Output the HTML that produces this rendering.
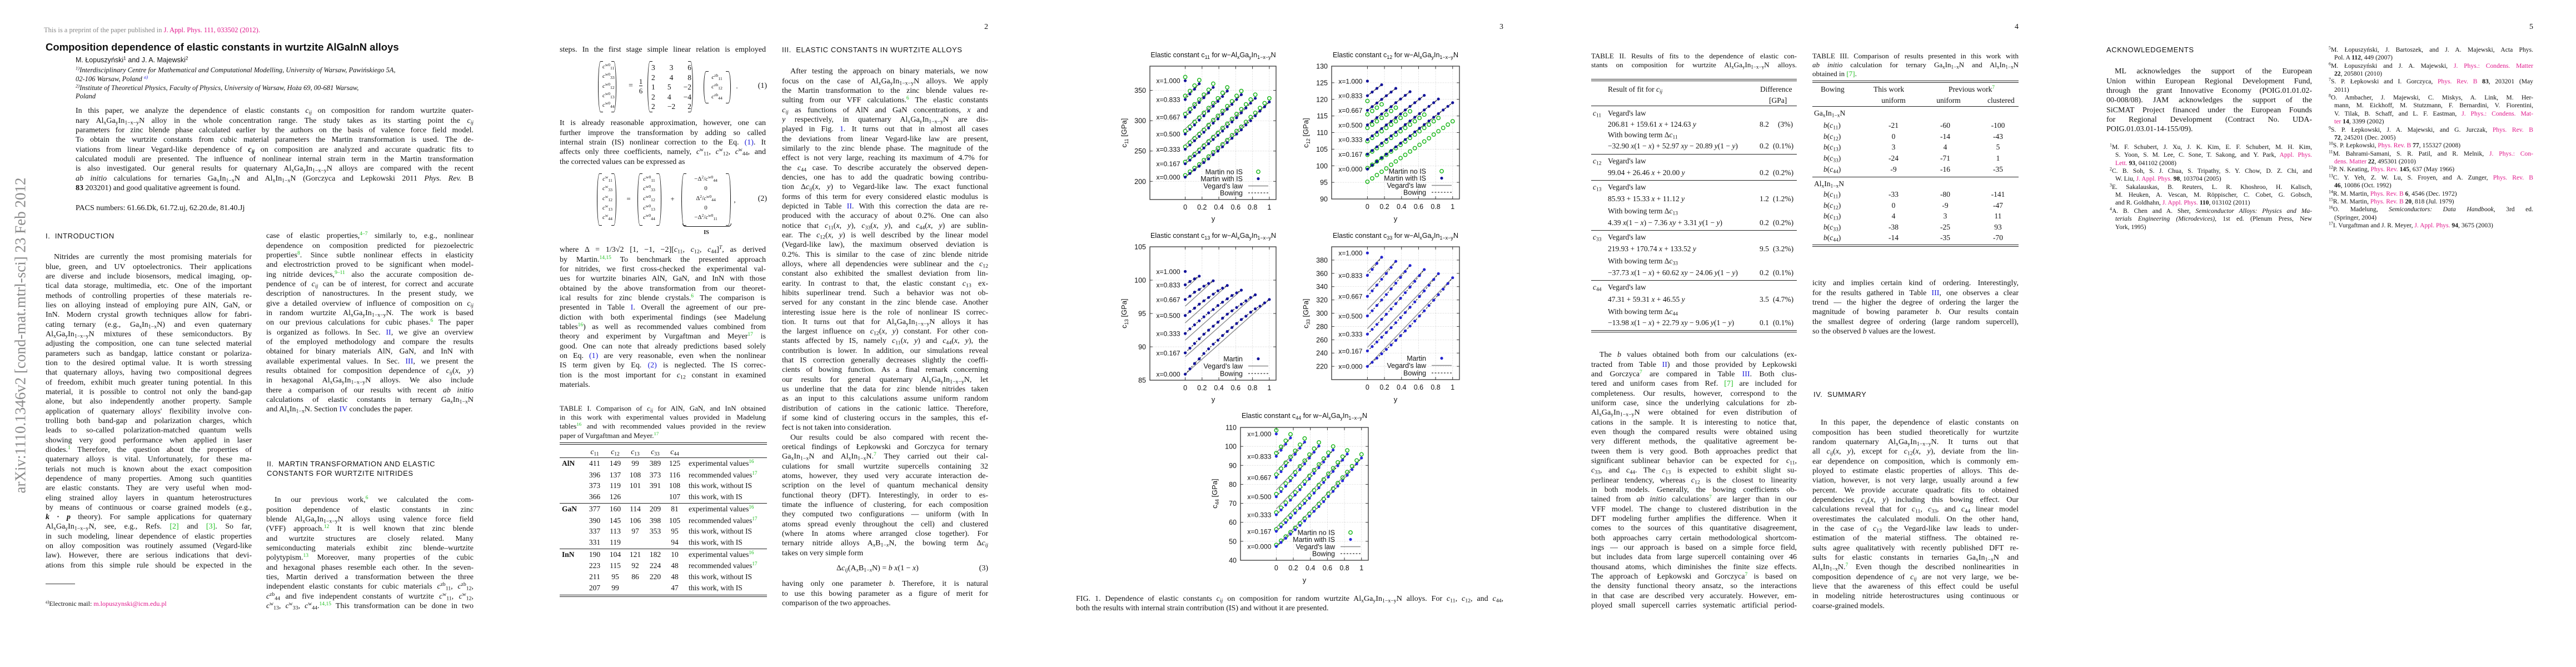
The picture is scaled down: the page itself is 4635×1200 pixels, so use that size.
<!DOCTYPE html>
<html><head><meta charset="utf-8">
<style>
html,body{margin:0;padding:0;background:#fff;}
body{width:4635px;height:1200px;position:relative;overflow:hidden;font-family:"Liberation Serif",serif;color:#111;}
.a{position:absolute;}
.col{position:absolute;font-size:14px;line-height:17.33px;}
.col>div{height:17.33px;overflow:hidden;text-align:justify;text-align-last:justify;white-space:nowrap;}
.col>div.e{text-align-last:left;}
.col>div.i{text-indent:15px;}
sub{font-size:70%;vertical-align:-0.25em;line-height:0;}
sup{font-size:68%;vertical-align:0.55em;line-height:0;}
.g{color:#22c022;}
.bl{color:#1a1ad8;}
.m{color:#e0188c;}
.sans{font-family:"Liberation Sans",sans-serif;}
.hd{position:absolute;font-family:"Liberation Sans",sans-serif;font-size:13px;letter-spacing:0.6px;line-height:17px;}
.pn{position:absolute;font-size:14px;text-align:right;width:40px;}
.cap{position:absolute;font-size:13px;line-height:16.2px;}
.cap>div{height:16.2px;overflow:hidden;text-align:justify;text-align-last:justify;white-space:nowrap;}
.cap>div.e{text-align-last:left;}
.ref{position:absolute;font-size:11.6px;line-height:14.38px;}
.ref>div{height:14.38px;overflow:hidden;text-align:justify;text-align-last:justify;white-space:nowrap;padding-left:10px;}
.ref>div.f{padding-left:0;}
.ref>div.e{text-align-last:left;}
.rule{position:absolute;height:0;border-top:1px solid #222;}
.tb{position:absolute;font-size:13.5px;}
.tb span{position:absolute;white-space:nowrap;line-height:16px;}
.c{text-align:center;width:50px;}
.par{position:absolute;width:8px;border:1.3px solid #111;}
.pl{border-right:none;border-radius:50% 0 0 50%/50% 0 0 50%;}
.pr{border-left:none;border-radius:0 50% 50% 0/0 50% 50% 0;}
.mx{position:absolute;font-size:13px;line-height:17.3px;text-align:center;}
</style></head><body>

<!-- ================= PAGE 1 ================= -->
<div class="a" style="left:-288px;top:588px;width:650px;text-align:center;font-size:27px;color:#8a8a8a;transform:rotate(-90deg);white-space:nowrap;">arXiv:1110.1346v2  [cond-mat.mtrl-sci]  23 Feb 2012</div>

<div class="a" style="left:79px;top:47px;font-size:12.5px;color:#888;white-space:nowrap;">This is a preprint of the paper published in <span class="m">J. Appl. Phys. 111, 033502 (2012).</span></div>

<div class="a sans" style="left:82px;top:74px;font-size:18.5px;font-weight:bold;white-space:nowrap;">Composition dependence of elastic constants in wurtzite AlGaInN alloys</div>
<div class="a sans" style="left:136px;top:101px;font-size:12.5px;white-space:nowrap;">M. Łopuszyński<sup>1</sup> and J. A. Majewski<sup>2</sup></div>
<div class="a" style="left:136px;top:119px;font-size:12.5px;line-height:15.8px;font-style:italic;white-space:nowrap;">
<div><sup>1)</sup>Interdisciplinary Centre for Mathematical and Computational Modelling, University of Warsaw, Pawińskiego 5A,</div>
<div>02-106 Warsaw, Poland <sup class="bl">a)</sup></div>
<div><sup>2)</sup>Institute of Theoretical Physics, Faculty of Physics, University of Warsaw, Hoża 69, 00-681 Warsaw,</div>
<div>Poland</div></div>

<div class="col" style="left:136px;top:191.3px;width:716px;">
<div>In this paper, we analyze the dependence of elastic constants <i>c<sub>ij</sub></i> on composition for random wurtzite quater-</div>
<div>nary Al<sub>x</sub>Ga<sub>y</sub>In<sub>1−x−y</sub>N alloy in the whole concentration range. The study takes as its starting point the <i>c<sub>ij</sub></i></div>
<div>parameters for zinc blende phase calculated earlier by the authors on the basis of valence force field model.</div>
<div>To obtain the wurtzite constants from cubic material parameters the Martin transformation is used. The de-</div>
<div>viations from linear Vegard-like dependence of <b><i>c<sub>ij</sub></i></b> on composition are analyzed and accurate quadratic fits to</div>
<div>calculated moduli are presented. The influence of nonlinear internal strain term in the Martin transformation</div>
<div>is also investigated. Our general results for quaternary Al<sub>x</sub>Ga<sub>y</sub>In<sub>1−x−y</sub>N alloys are compared with the recent</div>
<div><i>ab initio</i> calculations for ternaries Ga<sub>x</sub>In<sub>1−x</sub>N and Al<sub>x</sub>In<sub>1−x</sub>N (Gorczyca and Lepkowski 2011 <i>Phys. Rev.</i> B</div>
<div class="e"><b>83</b> 203201) and good qualitative agreement is found.</div>
</div>
<div class="a" style="left:136px;top:367px;font-size:14px;white-space:nowrap;">PACS numbers: 61.66.Dk, 61.72.uj, 62.20.de, 81.40.Jj</div>

<div class="hd" style="left:82px;top:416px;">I.&nbsp;&nbsp;INTRODUCTION</div>

<div class="col" style="left:82px;top:454.3px;width:371px;">
<div class="i">Nitrides are currently the most promising materials for</div>
<div>blue, green, and UV optoelectronics. Their applications</div>
<div>are diverse and include biosensors, medical imaging, op-</div>
<div>tical data storage, multimedia, etc. One of the important</div>
<div>methods of controlling properties of these materials re-</div>
<div>lies on alloying instead of employing pure AlN, GaN, or</div>
<div>InN. Modern crystal growth techniques allow for fabri-</div>
<div>cating ternary (e.g., Ga<sub>x</sub>In<sub>1−x</sub>N) and even quaternary</div>
<div>Al<sub>x</sub>Ga<sub>y</sub>In<sub>1−x−y</sub>N mixtures of these semiconductors. By</div>
<div>adjusting the composition, one can tune selected material</div>
<div>parameters such as bandgap, lattice constant or polariza-</div>
<div>tion to the desired optimal value. It is worth stressing</div>
<div>that quaternary alloys, having two compositional degrees</div>
<div>of freedom, exhibit much greater tuning potential. In this</div>
<div>material, it is possible to control not only the band-gap</div>
<div>alone, but also independently another property. Sample</div>
<div>application of quaternary alloys' flexibility involve con-</div>
<div>trolling both band-gap and polarization charges, which</div>
<div>leads to so-called polarization-matched quantum wells</div>
<div>showing very good performance when applied in laser</div>
<div>diodes.<sup class="g">1</sup> Therefore, the question about the properties of</div>
<div>quaternary alloys is vital. Unfortunately, for these ma-</div>
<div>terials not much is known about the exact composition</div>
<div>dependence of many properties. Among such quantities</div>
<div>are elastic constants. They are very useful when mod-</div>
<div>eling strained alloy layers in quantum heterostructures</div>
<div>by means of continuous or coarse grained models (e.g.,</div>
<div><b><i>k</i> · <i>p</i></b> theory). For sample applications for quaternary</div>
<div>Al<sub>x</sub>Ga<sub>y</sub>In<sub>1−x−y</sub>N, see, e.g., Refs. <span class="g">[2]</span> and <span class="g">[3]</span>. So far,</div>
<div>in such modeling, linear dependence of elastic properties</div>
<div>on alloy composition was routinely assumed (Vegard-like</div>
<div>law). However, there are serious indications that devi-</div>
<div>ations from this simple rule should be expected in the</div>
</div>

<div class="col" style="left:479px;top:416.3px;width:373px;">
<div>case of elastic properties,<sup class="g">4–7</sup> similarly to, e.g., nonlinear</div>
<div>dependence on composition predicted for piezoelectric</div>
<div>properties<sup class="g">8</sup>. Since subtle nonlinear effects in elasticity</div>
<div>and electrostriction proved to be significant when model-</div>
<div>ing nitride devices,<sup class="g">9–11</sup> also the accurate composition de-</div>
<div>pendence of <i>c<sub>ij</sub></i> can be of interest, for correct and accurate</div>
<div>description of nanostructures. In the present study, we</div>
<div>give a detailed overview of influence of composition on <i>c<sub>ij</sub></i></div>
<div>in random wurtzite Al<sub>x</sub>Ga<sub>y</sub>In<sub>1−x−y</sub>N. The work is based</div>
<div>on our previous calculations for cubic phases.<sup class="g">6</sup> The paper</div>
<div>is organized as follows. In Sec. <span class="bl">II</span>, we give an overview</div>
<div>of the employed methodology and compare the results</div>
<div>obtained for binary materials AlN, GaN, and InN with</div>
<div>available experimental values. In Sec. <span class="bl">III</span>, we present the</div>
<div>results obtained for composition dependence of <i>c<sub>ij</sub></i>(<i>x, y</i>)</div>
<div>in hexagonal Al<sub>x</sub>Ga<sub>y</sub>In<sub>1−x−y</sub>N alloys. We also include</div>
<div>there a comparison of our results with recent <i>ab initio</i></div>
<div>calculations of elastic constants in ternary Ga<sub>x</sub>In<sub>1−x</sub>N</div>
<div class="e">and Al<sub>x</sub>In<sub>1−x</sub>N. Section <span class="bl">IV</span> concludes the paper.</div>
</div>

<div class="hd" style="left:480px;top:826px;">II.&nbsp;&nbsp;MARTIN TRANSFORMATION AND ELASTIC<br>CONSTANTS FOR WURTZITE NITRIDES</div>

<div class="col" style="left:479px;top:891.3px;width:373px;">
<div class="i">In our previous work,<sup class="g">6</sup> we calculated the com-</div>
<div>position dependence of elastic constants in zinc</div>
<div>blende Al<sub>x</sub>Ga<sub>y</sub>In<sub>1−x−y</sub>N alloys using valence force field</div>
<div>(VFF) approach.<sup class="g">12</sup> It is well known that zinc blende</div>
<div>and wurtzite structures are closely related. Many</div>
<div>semiconducting materials exhibit zinc blende–wurtzite</div>
<div>polytypism.<sup class="g">13</sup> Moreover, many properties of the cubic</div>
<div>and hexagonal phases resemble each other. In the seven-</div>
<div>ties, Martin derived a transformation between the three</div>
<div>independent elastic constants for cubic materials <i>c</i><sup>zb</sup><sub>11</sub>, <i>c</i><sup>zb</sup><sub>12</sub>,</div>
<div><i>c</i><sup>zb</sup><sub>44</sub> and five independent constants of wurtzite <i>c</i><sup>w</sup><sub>11</sub>, <i>c</i><sup>w</sup><sub>12</sub>,</div>
<div><i>c</i><sup>w</sup><sub>13</sub>, <i>c</i><sup>w</sup><sub>33</sub>, <i>c</i><sup>w</sup><sub>44</sub>.<sup class="g">14,15</sup> This transformation can be done in two</div>
</div>

<div class="a" style="left:82px;top:1050px;width:53px;border-top:1px solid #333;"></div>
<div class="a" style="left:82px;top:1079px;font-size:12px;white-space:nowrap;"><sup>a)</sup>Electronic mail: <span class="m">m.lopuszynski@icm.edu.pl</span></div>

<!-- ================= PAGE 2 ================= -->
<div class="pn" style="left:1738px;top:41px;">2</div>

<div class="col" style="left:1007px;top:81.3px;width:371px;">
<div>steps. In the first stage simple linear relation is employed</div></div>

<div class="a" style="left:0;top:0;">
  <div class="par pl" style="left:1076px;top:110px;height:90px;"></div>
  <div class="mx" style="left:1084px;top:112px;width:20px;font-size:11px;"><i>c</i><sup>w0</sup><sub>11</sub><br><i>c</i><sup>w0</sup><sub>33</sub><br><i>c</i><sup>w0</sup><sub>12</sub><br><i>c</i><sup>w0</sup><sub>13</sub><br><i>c</i><sup>w0</sup><sub>44</sub></div>
  <div class="par pr" style="left:1100px;top:110px;height:90px;"></div>
  <div class="mx" style="left:1128px;top:146px;width:14px;font-size:14px;">=</div>
  <div class="mx" style="left:1146px;top:138px;width:14px;font-size:13px;line-height:17px;"><span style="border-bottom:1px solid #111;">1</span><br>6</div>
  <div class="par pl" style="left:1165px;top:110px;height:90px;"></div>
  <div class="mx" style="left:1172px;top:113px;width:72px;font-size:13.5px;line-height:17.5px;word-spacing:0;"><div style="display:flex;justify-content:space-between;"><span>3</span><span>3</span><span>6</span></div><div style="display:flex;justify-content:space-between;"><span>2</span><span>4</span><span>8</span></div><div style="display:flex;justify-content:space-between;"><span>1</span><span>5</span><span>−2</span></div><div style="display:flex;justify-content:space-between;"><span>2</span><span>4</span><span>−4</span></div><div style="display:flex;justify-content:space-between;"><span>2</span><span>−2</span><span>2</span></div></div>
  <div class="par pr" style="left:1238px;top:110px;height:90px;"></div>
  <div class="par pl" style="left:1266px;top:128px;height:56px;"></div>
  <div class="mx" style="left:1276px;top:131px;width:28px;font-size:11px;"><i>c</i><sup>zb</sup><sub>11</sub><br><i>c</i><sup>zb</sup><sub>12</sub><br><i>c</i><sup>zb</sup><sub>44</sub></div>
  <div class="par pr" style="left:1306px;top:128px;height:56px;"></div>
  <div class="mx" style="left:1322px;top:146px;width:8px;">.</div>
  <div class="mx" style="left:1350px;top:146px;width:30px;font-size:14px;text-align:right;">(1)</div>
</div>

<div class="col" style="left:1007px;top:213.3px;width:371px;">
<div>It is already reasonable approximation, however, one can</div>
<div>further improve the transformation by adding so called</div>
<div>internal strain (IS) nonlinear correction to the Eq. <span class="bl">(1)</span>. It</div>
<div>affects only three coefficients, namely, <i>c</i><sup>w</sup><sub>11</sub>, <i>c</i><sup>w</sup><sub>12</sub>, <i>c</i><sup>w</sup><sub>44</sub>, and</div>
<div class="e">the corrected values can be expressed as</div>
</div>

<div class="a" style="left:0;top:0;">
  <div class="par pl" style="left:1074px;top:312px;height:92px;"></div>
  <div class="mx" style="left:1082px;top:314px;width:22px;font-size:11px;"><i>c</i><sup>w</sup><sub>11</sub><br><i>c</i><sup>w</sup><sub>33</sub><br><i>c</i><sup>w</sup><sub>12</sub><br><i>c</i><sup>w</sup><sub>13</sub><br><i>c</i><sup>w</sup><sub>44</sub></div>
  <div class="par pr" style="left:1100px;top:312px;height:92px;"></div>
  <div class="mx" style="left:1124px;top:349px;width:14px;">=</div>
  <div class="par pl" style="left:1147px;top:312px;height:92px;"></div>
  <div class="mx" style="left:1155px;top:314px;width:26px;font-size:11px;"><i>c</i><sup>w0</sup><sub>11</sub><br><i>c</i><sup>w0</sup><sub>33</sub><br><i>c</i><sup>w0</sup><sub>12</sub><br><i>c</i><sup>w0</sup><sub>13</sub><br><i>c</i><sup>w0</sup><sub>44</sub></div>
  <div class="par pr" style="left:1181px;top:312px;height:92px;"></div>
  <div class="mx" style="left:1203px;top:349px;width:14px;">+</div>
  <div class="par pl" style="left:1226px;top:312px;height:92px;"></div>
  <div class="mx" style="left:1234px;top:314px;width:72px;font-size:11px;">−Δ<sup>2</sup>/<i>c</i><sup>w0</sup><sub>44</sub><br>0<br>Δ<sup>2</sup>/<i>c</i><sup>w0</sup><sub>44</sub><br>0<br>−Δ<sup>2</sup>/<i>c</i><sup>w0</sup><sub>11</sub></div>
  <div class="par pr" style="left:1306px;top:312px;height:92px;"></div>
  <div class="a" style="left:1228px;top:402px;width:86px;height:5px;border:1.2px solid #111;border-top:none;border-radius:0 0 6px 6px;"></div>
  <div class="mx" style="left:1258px;top:410px;width:26px;font-size:10px;font-weight:bold;">IS</div>
  <div class="mx" style="left:1318px;top:351px;width:8px;">,</div>
  <div class="mx" style="left:1350px;top:349px;width:30px;font-size:14px;text-align:right;">(2)</div>
</div>

<div class="col" style="left:1007px;top:441.3px;width:371px;">
<div>where Δ = 1/3√2 [1, −1, −2][<i>c</i><sub>11</sub>, <i>c</i><sub>12</sub>, <i>c</i><sub>44</sub>]<sup><i>T</i></sup>, as derived</div>
<div>by Martin.<sup class="g">14,15</sup> To benchmark the presented approach</div>
<div>for nitrides, we first cross-checked the experimental val-</div>
<div>ues for wurtzite binaries AlN, GaN, and InN with those</div>
<div>obtained by the above transformation from our theoret-</div>
<div>ical results for zinc blende crystals.<sup class="g">6</sup> The comparison is</div>
<div>presented in Table <span class="bl">I</span>. Overall the agreement of our pre-</div>
<div>diction with both experimental findings (see Madelung</div>
<div>tables<sup class="g">16</sup>) as well as recommended values combined from</div>
<div>theory and experiment by Vurgaftman and Meyer<sup class="g">17</sup> is</div>
<div>good. One can note that already predictions based solely</div>
<div>on Eq. <span class="bl">(1)</span> are very reasonable, even when the nonlinear</div>
<div>IS term given by Eq. <span class="bl">(2)</span> is neglected. The IS correc-</div>
<div>tion is the most important for <i>c</i><sub>12</sub> constant in examined</div>
<div class="e">materials.</div>
</div>

<div class="cap" style="left:1007px;top:727px;width:371px;">
<div>TABLE I. Comparison of <i>c<sub>ij</sub></i> for AlN, GaN, and InN obtained</div>
<div>in this work with experimental values provided in Madelung</div>
<div>tables<sup class="g">16</sup> and with recommended values provided in the review</div>
<div class="e">paper of Vurgaftman and Meyer.<sup class="g">17</sup></div>
</div>

<div class="tb" style="left:1007px;top:0;width:373px;height:1100px;">
  <div class="rule" style="left:0;top:796px;width:373px;"></div><div class="rule" style="left:0;top:799px;width:373px;"></div>
  <div class="rule" style="left:0;top:823px;width:373px;"></div>
  <div class="rule" style="left:0;top:905px;width:373px;"></div>
  <div class="rule" style="left:0;top:987px;width:373px;"></div>
  <div class="rule" style="left:0;top:1070px;width:373px;"></div><div class="rule" style="left:0;top:1073px;width:373px;"></div>
  <div><span class="c" style="left:38px;top:805px;"><i>c</i><sub>11</sub></span><span class="c" style="left:75px;top:805px;"><i>c</i><sub>12</sub></span><span class="c" style="left:111px;top:805px;"><i>c</i><sub>13</sub></span><span class="c" style="left:147px;top:805px;"><i>c</i><sub>33</sub></span><span class="c" style="left:182px;top:805px;"><i>c</i><sub>44</sub></span></div>
  <span style="left:4px;top:826px;font-weight:bold;">AlN</span>
  <span class="c" style="left:38px;top:826px;">411</span><span class="c" style="left:75px;top:826px;">149</span><span class="c" style="left:111px;top:826px;">99</span><span class="c" style="left:147px;top:826px;">389</span><span class="c" style="left:182px;top:826px;">125</span><span style="left:232px;top:826px;">experimental values<sup class="g">16</sup></span>
  <span class="c" style="left:38px;top:847px;">396</span><span class="c" style="left:75px;top:847px;">137</span><span class="c" style="left:111px;top:847px;">108</span><span class="c" style="left:147px;top:847px;">373</span><span class="c" style="left:182px;top:847px;">116</span><span style="left:232px;top:847px;">recommended values<sup class="g">17</sup></span>
  <span class="c" style="left:38px;top:866px;">373</span><span class="c" style="left:75px;top:866px;">119</span><span class="c" style="left:111px;top:866px;">101</span><span class="c" style="left:147px;top:866px;">391</span><span class="c" style="left:182px;top:866px;">108</span><span style="left:232px;top:866px;">this work, without IS</span>
  <span class="c" style="left:38px;top:886px;">366</span><span class="c" style="left:75px;top:886px;">126</span><span class="c" style="left:182px;top:886px;">107</span><span style="left:232px;top:886px;">this work, with IS</span>
  <span style="left:4px;top:908px;font-weight:bold;">GaN</span>
  <span class="c" style="left:38px;top:908px;">377</span><span class="c" style="left:75px;top:908px;">160</span><span class="c" style="left:111px;top:908px;">114</span><span class="c" style="left:147px;top:908px;">209</span><span class="c" style="left:182px;top:908px;">81</span><span style="left:232px;top:908px;">experimental values<sup class="g">16</sup></span>
  <span class="c" style="left:38px;top:929px;">390</span><span class="c" style="left:75px;top:929px;">145</span><span class="c" style="left:111px;top:929px;">106</span><span class="c" style="left:147px;top:929px;">398</span><span class="c" style="left:182px;top:929px;">105</span><span style="left:232px;top:929px;">recommended values<sup class="g">17</sup></span>
  <span class="c" style="left:38px;top:948px;">337</span><span class="c" style="left:75px;top:948px;">113</span><span class="c" style="left:111px;top:948px;">97</span><span class="c" style="left:147px;top:948px;">353</span><span class="c" style="left:182px;top:948px;">95</span><span style="left:232px;top:948px;">this work, without IS</span>
  <span class="c" style="left:38px;top:968px;">331</span><span class="c" style="left:75px;top:968px;">119</span><span class="c" style="left:182px;top:968px;">94</span><span style="left:232px;top:968px;">this work, with IS</span>
  <span style="left:4px;top:990px;font-weight:bold;">InN</span>
  <span class="c" style="left:38px;top:990px;">190</span><span class="c" style="left:75px;top:990px;">104</span><span class="c" style="left:111px;top:990px;">121</span><span class="c" style="left:147px;top:990px;">182</span><span class="c" style="left:182px;top:990px;">10</span><span style="left:232px;top:990px;">experimental values<sup class="g">16</sup></span>
  <span class="c" style="left:38px;top:1010px;">223</span><span class="c" style="left:75px;top:1010px;">115</span><span class="c" style="left:111px;top:1010px;">92</span><span class="c" style="left:147px;top:1010px;">224</span><span class="c" style="left:182px;top:1010px;">48</span><span style="left:232px;top:1010px;">recommended values<sup class="g">17</sup></span>
  <span class="c" style="left:38px;top:1030px;">211</span><span class="c" style="left:75px;top:1030px;">95</span><span class="c" style="left:111px;top:1030px;">86</span><span class="c" style="left:147px;top:1030px;">220</span><span class="c" style="left:182px;top:1030px;">48</span><span style="left:232px;top:1030px;">this work, without IS</span>
  <span class="c" style="left:38px;top:1050px;">207</span><span class="c" style="left:75px;top:1050px;">99</span><span class="c" style="left:182px;top:1050px;">47</span><span style="left:232px;top:1050px;">this work, with IS</span>
</div>

<div class="hd" style="left:1407px;top:81px;">III.&nbsp;&nbsp;ELASTIC CONSTANTS IN WURTZITE ALLOYS</div>

<div class="col" style="left:1407px;top:120.3px;width:371px;">
<div class="i">After testing the approach on binary materials, we now</div>
<div>focus on the case of Al<sub>x</sub>Ga<sub>y</sub>In<sub>1−x−y</sub>N alloys. We apply</div>
<div>the Martin transformation to the zinc blende values re-</div>
<div>sulting from our VFF calculations.<sup class="g">6</sup> The elastic constants</div>
<div><i>c<sub>ij</sub></i> as functions of AlN and GaN concentrations, <i>x</i> and</div>
<div><i>y</i> respectively, in quaternary Al<sub>x</sub>Ga<sub>y</sub>In<sub>1−x−y</sub>N are dis-</div>
<div>played in Fig. <span class="bl">1</span>. It turns out that in almost all cases</div>
<div>the deviations from linear Vegard-like law are present,</div>
<div>similarly to the zinc blende phase. The magnitude of the</div>
<div>effect is not very large, reaching its maximum of 4.7% for</div>
<div>the <i>c</i><sub>44</sub> case. To describe accurately the observed depen-</div>
<div>dencies, one has to add the quadratic bowing contribu-</div>
<div>tion Δ<i>c<sub>ij</sub></i>(<i>x, y</i>) to Vegard-like law. The exact functional</div>
<div>forms of this term for every considered elastic modulus is</div>
<div>depicted in Table <span class="bl">II</span>. With this correction the data are re-</div>
<div>produced with the accuracy of about 0.2%. One can also</div>
<div>notice that <i>c</i><sub>11</sub>(<i>x, y</i>), <i>c</i><sub>33</sub>(<i>x, y</i>), and <i>c</i><sub>44</sub>(<i>x, y</i>) are sublin-</div>
<div>ear. The <i>c</i><sub>12</sub>(<i>x, y</i>) is well described by the linear model</div>
<div>(Vegard-like law), the maximum observed deviation is</div>
<div>0.2%. This is similar to the case of zinc blende nitride</div>
<div>alloys, where all dependencies were sublinear and the <i>c</i><sub>12</sub></div>
<div>constant also exhibited the smallest deviation from lin-</div>
<div>earity. In contrast to that, the elastic constant <i>c</i><sub>13</sub> ex-</div>
<div>hibits superlinear trend. Such a behavior was not ob-</div>
<div>served for any constant in the zinc blende case. Another</div>
<div>interesting issue here is the role of nonlinear IS correc-</div>
<div>tion. It turns out that for Al<sub>x</sub>Ga<sub>y</sub>In<sub>1−x−y</sub>N alloys it has</div>
<div>the largest influence on <i>c</i><sub>12</sub>(<i>x, y</i>) constant. For other con-</div>
<div>stants affected by IS, namely <i>c</i><sub>11</sub>(<i>x, y</i>) and <i>c</i><sub>44</sub>(<i>x, y</i>), the</div>
<div>contribution is lower. In addition, our simulations reveal</div>
<div>that IS correction generally decreases slightly the coeffi-</div>
<div>cients of bowing function. As a final remark concerning</div>
<div>our results for general quaternary Al<sub>x</sub>Ga<sub>y</sub>In<sub>1−x−y</sub>N, let</div>
<div>us underline that the data for zinc blende nitrides taken</div>
<div>as an input to this calculations assume uniform random</div>
<div>distribution of cations in the cationic lattice. Therefore,</div>
<div>if some kind of clustering occurs in the samples, this ef-</div>
<div class="e">fect is not taken into consideration.</div>
<div class="i">Our results could be also compared with recent the-</div>
<div>oretical findings of Łepkowski and Gorczyca for ternary</div>
<div>Ga<sub>x</sub>In<sub>1−x</sub>N and Al<sub>x</sub>In<sub>1−x</sub>N.<sup class="g">7</sup> They carried out their cal-</div>
<div>culations for small wurtzite supercells containing 32</div>
<div>atoms, however, they used very accurate interaction de-</div>
<div>scription on the level of quantum mechanical density</div>
<div>functional theory (DFT). Interestingly, in order to es-</div>
<div>timate the influence of clustering, for each composition</div>
<div>they computed two configurations — uniform (with In</div>
<div>atoms spread evenly throughout the cell) and clustered</div>
<div>(where In atoms where arranged close together). For</div>
<div>ternary nitride alloys A<sub><i>x</i></sub>B<sub>1−<i>x</i></sub>N, the bowing term Δ<i>c<sub>ij</sub></i></div>
<div class="e">takes on very simple form</div>
</div>
<div class="a" style="left:1505px;top:1015px;font-size:14px;white-space:nowrap;">Δ<i>c<sub>ij</sub></i>(A<sub><i>x</i></sub>B<sub>1−<i>x</i></sub>N) = <i>b x</i>(1 − <i>x</i>)</div>
<div class="a" style="left:1748px;top:1015px;font-size:14px;width:30px;text-align:right;">(3)</div>
<div class="col" style="left:1407px;top:1042.3px;width:371px;">
<div>having only one parameter <i>b</i>. Therefore, it is natural</div>
<div>to use this bowing parameter as a figure of merit for</div>
<div class="e">comparison of the two approaches.</div>
</div>

<!-- ================= PAGE 3 (figure) ================= -->
<div class="pn" style="left:2665px;top:41px;">3</div>

<svg id="fig" class="a" style="left:0;top:0;" width="4635" height="1200" viewBox="0 0 4635 1200" font-family="Liberation Sans, sans-serif" font-size="12.5">
  <g fill="#111">
    <text x="2183" y="103" text-anchor="middle">Elastic constant c<tspan dy="3" font-size="9">11</tspan><tspan dy="-3"> for w−Al</tspan><tspan dy="3" font-size="9">x</tspan><tspan dy="-3">Ga</tspan><tspan dy="3" font-size="9">y</tspan><tspan dy="-3">In</tspan><tspan dy="3" font-size="9">1−x−y</tspan><tspan dy="-3">N</tspan></text>
    <text x="2511" y="103" text-anchor="middle">Elastic constant c<tspan dy="3" font-size="9">12</tspan><tspan dy="-3"> for w−Al</tspan><tspan dy="3" font-size="9">x</tspan><tspan dy="-3">Ga</tspan><tspan dy="3" font-size="9">y</tspan><tspan dy="-3">In</tspan><tspan dy="3" font-size="9">1−x−y</tspan><tspan dy="-3">N</tspan></text>
    <text x="2183" y="428" text-anchor="middle">Elastic constant c<tspan dy="3" font-size="9">13</tspan><tspan dy="-3"> for w−Al</tspan><tspan dy="3" font-size="9">x</tspan><tspan dy="-3">Ga</tspan><tspan dy="3" font-size="9">y</tspan><tspan dy="-3">In</tspan><tspan dy="3" font-size="9">1−x−y</tspan><tspan dy="-3">N</tspan></text>
    <text x="2511" y="428" text-anchor="middle">Elastic constant c<tspan dy="3" font-size="9">33</tspan><tspan dy="-3"> for w−Al</tspan><tspan dy="3" font-size="9">x</tspan><tspan dy="-3">Ga</tspan><tspan dy="3" font-size="9">y</tspan><tspan dy="-3">In</tspan><tspan dy="3" font-size="9">1−x−y</tspan><tspan dy="-3">N</tspan></text>
    <text x="2347" y="752" text-anchor="middle">Elastic constant c<tspan dy="3" font-size="9">44</tspan><tspan dy="-3"> for w−Al</tspan><tspan dy="3" font-size="9">x</tspan><tspan dy="-3">Ga</tspan><tspan dy="3" font-size="9">y</tspan><tspan dy="-3">In</tspan><tspan dy="3" font-size="9">1−x−y</tspan><tspan dy="-3">N</tspan></text>
    <text transform="translate(2027,239) rotate(-90)" text-anchor="middle" font-size="13">c<tspan dy="3" font-size="9">11</tspan><tspan dy="-3"> [GPa]</tspan></text>
    <text transform="translate(2354,239) rotate(-90)" text-anchor="middle" font-size="13">c<tspan dy="3" font-size="9">12</tspan><tspan dy="-3"> [GPa]</tspan></text>
    <text transform="translate(2027,564) rotate(-90)" text-anchor="middle" font-size="13">c<tspan dy="3" font-size="9">13</tspan><tspan dy="-3"> [GPa]</tspan></text>
    <text transform="translate(2354,564) rotate(-90)" text-anchor="middle" font-size="13">c<tspan dy="3" font-size="9">33</tspan><tspan dy="-3"> [GPa]</tspan></text>
    <text transform="translate(2190,888) rotate(-90)" text-anchor="middle" font-size="13">c<tspan dy="3" font-size="9">44</tspan><tspan dy="-3"> [GPa]</tspan></text>
    <text x="2183" y="398" text-anchor="middle" font-size="13">y</text>
    <text x="2511" y="398" text-anchor="middle" font-size="13">y</text>
    <text x="2183" y="723" text-anchor="middle" font-size="13">y</text>
    <text x="2511" y="723" text-anchor="middle" font-size="13">y</text>
    <text x="2347" y="1048" text-anchor="middle" font-size="13">y</text>
  </g>
</svg>

<div class="a" style="left:1936px;top:1069px;width:769px;font-size:14px;line-height:17px;">
<div style="text-align:justify;text-align-last:justify;white-space:nowrap;height:17px;overflow:hidden;">FIG. 1. Dependence of elastic constants <i>c<sub>ij</sub></i> on composition for random wurtzite Al<sub>x</sub>Ga<sub>y</sub>In<sub>1−x−y</sub>N alloys. For <i>c</i><sub>11</sub>, <i>c</i><sub>12</sub>, and <i>c</i><sub>44</sub>,</div>
<div style="white-space:nowrap;">both the results with internal strain contribution (IS) and without it are presented.</div>
</div>

<!-- ================= PAGE 4 ================= -->
<div class="pn" style="left:3592px;top:41px;">4</div>

<div class="cap" style="left:2863px;top:93px;width:370px;">
<div>TABLE II. Results of fits to the dependence of elastic con-</div>
<div>stants on composition for wurtzite Al<sub>x</sub>Ga<sub>y</sub>In<sub>1−x−y</sub>N alloys.</div>
</div>
<div class="tb" style="left:2863px;top:0;width:370px;height:620px;">
  <div class="rule" style="left:0;top:142px;width:370px;"></div><div class="rule" style="left:0;top:145px;width:370px;"></div>
  <div class="rule" style="left:0;top:190px;width:370px;"></div>
  <div class="rule" style="left:0;top:277px;width:370px;"></div>
  <div class="rule" style="left:0;top:324px;width:370px;"></div>
  <div class="rule" style="left:0;top:414px;width:370px;"></div>
  <div class="rule" style="left:0;top:504px;width:370px;"></div>
  <div class="rule" style="left:0;top:594px;width:370px;"></div><div class="rule" style="left:0;top:597px;width:370px;"></div>
  <span style="left:30px;top:153px;">Result of fit for <i>c<sub>ij</sub></i></span>
  <span style="left:304px;top:153px;">Difference</span>
  <span style="left:320px;top:173px;">[GPa]</span>
  <span style="left:3px;top:196px;"><i>c</i><sub>11</sub></span><span style="left:30px;top:196px;">Vegard's law</span>
  <span style="left:30px;top:216px;">206.81 + 159.61 <i>x</i> + 124.63 <i>y</i></span><span style="left:303px;top:216px;">8.2</span><span style="left:336px;top:216px;">(3%)</span>
  <span style="left:30px;top:235px;">With bowing term Δ<i>c</i><sub>11</sub></span>
  <span style="left:30px;top:255px;">−32.90 <i>x</i>(1 − <i>x</i>) + 52.97 <i>xy</i> − 20.89 <i>y</i>(1 − <i>y</i>)</span><span style="left:303px;top:255px;">0.2</span><span style="left:327px;top:255px;">(0.1%)</span>
  <span style="left:3px;top:282px;"><i>c</i><sub>12</sub></span><span style="left:30px;top:282px;">Vegard's law</span>
  <span style="left:30px;top:303px;">99.04 + 26.46 <i>x</i> + 20.00 <i>y</i></span><span style="left:303px;top:303px;">0.2</span><span style="left:327px;top:303px;">(0.2%)</span>
  <span style="left:3px;top:329px;"><i>c</i><sub>13</sub></span><span style="left:30px;top:329px;">Vegard's law</span>
  <span style="left:30px;top:350px;">85.93 + 15.33 <i>x</i> + 11.12 <i>y</i></span><span style="left:303px;top:350px;">1.2</span><span style="left:327px;top:350px;">(1.2%)</span>
  <span style="left:30px;top:372px;">With bowing term Δ<i>c</i><sub>13</sub></span>
  <span style="left:30px;top:393px;">4.39 <i>x</i>(1 − <i>x</i>) − 7.36 <i>xy</i> + 3.31 <i>y</i>(1 − <i>y</i>)</span><span style="left:303px;top:393px;">0.2</span><span style="left:327px;top:393px;">(0.2%)</span>
  <span style="left:3px;top:419px;"><i>c</i><sub>33</sub></span><span style="left:30px;top:419px;">Vegard's law</span>
  <span style="left:30px;top:440px;">219.93 + 170.74 <i>x</i> + 133.52 <i>y</i></span><span style="left:303px;top:440px;">9.5</span><span style="left:327px;top:440px;">(3.2%)</span>
  <span style="left:30px;top:462px;">With bowing term Δ<i>c</i><sub>33</sub></span>
  <span style="left:30px;top:483px;">−37.73 <i>x</i>(1 − <i>x</i>) + 60.62 <i>xy</i> − 24.06 <i>y</i>(1 − <i>y</i>)</span><span style="left:303px;top:483px;">0.2</span><span style="left:327px;top:483px;">(0.1%)</span>
  <span style="left:3px;top:509px;"><i>c</i><sub>44</sub></span><span style="left:30px;top:509px;">Vegard's law</span>
  <span style="left:30px;top:531px;">47.31 + 59.31 <i>x</i> + 46.55 <i>y</i></span><span style="left:303px;top:531px;">3.5</span><span style="left:327px;top:531px;">(4.7%)</span>
  <span style="left:30px;top:553px;">With bowing term Δ<i>c</i><sub>44</sub></span>
  <span style="left:30px;top:573px;">−13.98 <i>x</i>(1 − <i>x</i>) + 22.79 <i>xy</i> − 9.06 <i>y</i>(1 − <i>y</i>)</span><span style="left:303px;top:573px;">0.1</span><span style="left:327px;top:573px;">(0.1%)</span>
</div>

<div class="col" style="left:2863px;top:630.3px;width:370px;">
<div class="i">The <i>b</i> values obtained both from our calculations (ex-</div>
<div>tracted from Table <span class="bl">II</span>) and those provided by Łepkowski</div>
<div>and Gorczyca<sup class="g">7</sup> are compared in Table <span class="bl">III</span>. Both clus-</div>
<div>tered and uniform cases from Ref. <span class="g">[7]</span> are included for</div>
<div>completeness. Our results, however, correspond to the</div>
<div>uniform case, since the underlying calculations for zb-</div>
<div>Al<sub>x</sub>Ga<sub>y</sub>In<sub>1−x−y</sub>N were obtained for even distribution of</div>
<div>cations in the sample. It is interesting to notice that,</div>
<div>even though the compared results were obtained using</div>
<div>very different methods, the qualitative agreement be-</div>
<div>tween them is very good. Both approaches predict that</div>
<div>significant sublinear behavior can be expected for <i>c</i><sub>11</sub>,</div>
<div><i>c</i><sub>33</sub>, and <i>c</i><sub>44</sub>. The <i>c</i><sub>13</sub> is expected to exhibit slight su-</div>
<div>perlinear tendency, whereas <i>c</i><sub>12</sub> is the closest to linearity</div>
<div>in both models. Generally, the bowing coefficients ob-</div>
<div>tained from <i>ab initio</i> calculations<sup class="g">7</sup> are larger than in our</div>
<div>VFF model. The change to clustered distribution in the</div>
<div>DFT modeling further amplifies the difference. When it</div>
<div>comes to the sources of this quantitative disagreement,</div>
<div>both approaches carry certain methodological shortcom-</div>
<div>ings — our approach is based on a simple force field,</div>
<div>but includes data from large supercell containing over 46</div>
<div>thousand atoms, which diminishes the finite size effects.</div>
<div>The approach of Łepkowski and Gorczyca<sup class="g">7</sup> is based on</div>
<div>the density functional theory ansatz, so the interactions</div>
<div>in that case are described very accurately. However, em-</div>
<div>ployed small supercell carries systematic artificial period-</div>
</div>

<div class="cap" style="left:3261px;top:93px;width:371px;">
<div>TABLE III. Comparison of results presented in this work with</div>
<div><i>ab initio</i> calculation for ternary Ga<sub>x</sub>In<sub>1−x</sub>N and Al<sub>x</sub>In<sub>1−x</sub>N</div>
<div class="e">obtained in <span class="g">[7]</span>.</div>
</div>
<div class="tb" style="left:3261px;top:0;width:371px;height:460px;">
  <div class="rule" style="left:0;top:145px;width:371px;"></div><div class="rule" style="left:0;top:148px;width:371px;"></div>
  <div class="rule" style="left:0;top:191px;width:371px;"></div>
  <div class="rule" style="left:0;top:318px;width:371px;"></div>
  <div class="rule" style="left:0;top:440px;width:371px;"></div><div class="rule" style="left:0;top:443px;width:371px;"></div>
  <span style="left:15px;top:153px;">Bowing</span>
  <span style="left:110px;top:153px;">This work</span>
  <span style="left:245px;top:153px;">Previous work<sup class="g">7</sup></span>
  <span class="c" style="left:121px;top:173px;">uniform</span><span class="c" style="left:220px;top:173px;">uniform</span><span style="left:315px;top:173px;">clustered</span>
  <span style="left:3px;top:196px;">Ga<sub>x</sub>In<sub>1−x</sub>N</span>
  <span style="left:20px;top:218px;"><i>b</i>(<i>c</i><sub>11</sub>)</span><span class="c" style="left:121px;top:218px;">-21</span><span class="c" style="left:214px;top:218px;">-60</span><span class="c" style="left:309px;top:218px;">-100</span>
  <span style="left:20px;top:238px;"><i>b</i>(<i>c</i><sub>12</sub>)</span><span class="c" style="left:121px;top:238px;">0</span><span class="c" style="left:214px;top:238px;">-14</span><span class="c" style="left:309px;top:238px;">-43</span>
  <span style="left:20px;top:257px;"><i>b</i>(<i>c</i><sub>13</sub>)</span><span class="c" style="left:121px;top:257px;">3</span><span class="c" style="left:214px;top:257px;">4</span><span class="c" style="left:309px;top:257px;">5</span>
  <span style="left:20px;top:277px;"><i>b</i>(<i>c</i><sub>33</sub>)</span><span class="c" style="left:121px;top:277px;">-24</span><span class="c" style="left:214px;top:277px;">-71</span><span class="c" style="left:309px;top:277px;">1</span>
  <span style="left:20px;top:297px;"><i>b</i>(<i>c</i><sub>44</sub>)</span><span class="c" style="left:121px;top:297px;">-9</span><span class="c" style="left:214px;top:297px;">-16</span><span class="c" style="left:309px;top:297px;">-35</span>
  <span style="left:3px;top:323px;">Al<sub>x</sub>In<sub>1−x</sub>N</span>
  <span style="left:20px;top:342px;"><i>b</i>(<i>c</i><sub>11</sub>)</span><span class="c" style="left:121px;top:342px;">-33</span><span class="c" style="left:214px;top:342px;">-80</span><span class="c" style="left:309px;top:342px;">-141</span>
  <span style="left:20px;top:362px;"><i>b</i>(<i>c</i><sub>12</sub>)</span><span class="c" style="left:121px;top:362px;">0</span><span class="c" style="left:214px;top:362px;">-9</span><span class="c" style="left:309px;top:362px;">-47</span>
  <span style="left:20px;top:381px;"><i>b</i>(<i>c</i><sub>13</sub>)</span><span class="c" style="left:121px;top:381px;">4</span><span class="c" style="left:214px;top:381px;">3</span><span class="c" style="left:309px;top:381px;">11</span>
  <span style="left:20px;top:401px;"><i>b</i>(<i>c</i><sub>33</sub>)</span><span class="c" style="left:121px;top:401px;">-38</span><span class="c" style="left:214px;top:401px;">-25</span><span class="c" style="left:309px;top:401px;">93</span>
  <span style="left:20px;top:420px;"><i>b</i>(<i>c</i><sub>44</sub>)</span><span class="c" style="left:121px;top:420px;">-14</span><span class="c" style="left:214px;top:420px;">-35</span><span class="c" style="left:309px;top:420px;">-70</span>
</div>

<div class="col" style="left:3261px;top:501.3px;width:371px;">
<div>icity and implies certain kind of ordering. Interestingly,</div>
<div>for the results gathered in Table <span class="bl">III</span>, one observes a clear</div>
<div>trend — the higher the degree of ordering the larger the</div>
<div>magnitude of bowing parameter <i>b</i>. Our results contain</div>
<div>the smallest degree of ordering (large random supercell),</div>
<div class="e">so the observed <i>b</i> values are the lowest.</div>
</div>

<div class="hd" style="left:3263px;top:701px;">IV.&nbsp;&nbsp;SUMMARY</div>

<div class="col" style="left:3261px;top:752.3px;width:371px;">
<div class="i">In this paper, the dependence of elastic constants on</div>
<div>composition has been studied theoretically for wurtzite</div>
<div>random quaternary Al<sub>x</sub>Ga<sub>y</sub>In<sub>1−x−y</sub>N. It turns out that</div>
<div>all <i>c<sub>ij</sub></i>(<i>x, y</i>), except for <i>c</i><sub>12</sub>(<i>x, y</i>), deviate from the lin-</div>
<div>ear dependence on composition, which is commonly em-</div>
<div>ployed to estimate elastic properties of alloys. This de-</div>
<div>viation, however, is not very large, usually around a few</div>
<div>percent. We provide accurate quadratic fits to obtained</div>
<div>dependencies <i>c<sub>ij</sub></i>(<i>x, y</i>) including this bowing effect. Our</div>
<div>calculations reveal that for <i>c</i><sub>11</sub>, <i>c</i><sub>33</sub>, and <i>c</i><sub>44</sub> linear model</div>
<div>overestimates the calculated moduli. On the other hand,</div>
<div>in the case of <i>c</i><sub>13</sub> the Vegard-like law leads to under-</div>
<div>estimation of the material stiffness. The obtained re-</div>
<div>sults agree qualitatively with recently published DFT re-</div>
<div>sults for elastic constants in ternaries Ga<sub>x</sub>In<sub>1−x</sub>N and</div>
<div>Al<sub>x</sub>In<sub>1−x</sub>N.<sup class="g">7</sup> Even though the described nonlinearities in</div>
<div>composition dependence of <i>c<sub>ij</sub></i> are not very large, we be-</div>
<div>lieve that the awareness of this effect could be useful</div>
<div>in modeling nitride heterostructures using continuous or</div>
<div class="e">coarse-grained models.</div>
</div>

<!-- ================= PAGE 5 ================= -->
<div class="pn" style="left:4518px;top:41px;">5</div>

<div class="hd" style="left:3790px;top:81px;">ACKNOWLEDGEMENTS</div>
<div class="col" style="left:3790px;top:120.3px;width:370px;">
<div class="i">ML acknowledges the support of the European</div>
<div>Union within European Regional Development Fund,</div>
<div>through the grant Innovative Economy (POIG.01.01.02-</div>
<div>00-008/08). JAM acknowledges the support of the</div>
<div>SiCMAT Project financed under the European Founds</div>
<div>for Regional Development (Contract No. UDA-</div>
<div class="e">POIG.01.03.01-14-155/09).</div>
</div>

<div class="ref" style="left:3796px;top:257.8px;width:364px;">
<div class="f"><sup>1</sup>M. F. Schubert, J. Xu, J. K. Kim, E. F. Schubert, M. H. Kim,</div>
<div>S. Yoon, S. M. Lee, C. Sone, T. Sakong, and Y. Park, <span class="m">Appl. Phys.</span></div>
<div class="e"><span class="m">Lett.</span> <b>93</b>, 041102 (2008)</div>
<div class="f"><sup>2</sup>C. B. Soh, S. J. Chua, S. Tripathy, S. Y. Chow, D. Z. Chi, and</div>
<div class="e">W. Liu, <span class="m">J. Appl. Phys.</span> <b>98</b>, 103704 (2005)</div>
<div class="f"><sup>3</sup>E. Sakalauskas, B. Reuters, L. R. Khoshroo, H. Kalisch,</div>
<div>M. Heuken, A. Vescan, M. Röppischer, C. Cobet, G. Gobsch,</div>
<div class="e">and R. Goldhahn, <span class="m">J. Appl. Phys.</span> <b>110</b>, 013102 (2011)</div>
<div class="f"><sup>4</sup>A. B. Chen and A. Sher, <i>Semiconductor Alloys: Physics and Ma-</i></div>
<div><i>terials Engineering (Microdevices)</i>, 1st ed. (Plenum Press, New</div>
<div class="e">York, 1995)</div>
</div>

<div class="ref" style="left:4190px;top:82.8px;width:368px;">
<div class="f"><sup>5</sup>M. Łopuszyński, J. Bartoszek, and J. A. Majewski, Acta Phys.</div>
<div class="e">Pol. A <b>112</b>, 449 (2007)</div>
<div class="f"><sup>6</sup>M. Łopuszyński and J. A. Majewski, <span class="m">J. Phys.: Condens. Matter</span></div>
<div class="e"><b>22</b>, 205801 (2010)</div>
<div class="f"><sup>7</sup>S. P. Łepkowski and I. Gorczyca, <span class="m">Phys. Rev. B</span> <b>83</b>, 203201 (May</div>
<div class="e">2011)</div>
<div class="f"><sup>8</sup>O. Ambacher, J. Majewski, C. Miskys, A. Link, M. Her-</div>
<div>mann, M. Eickhoff, M. Stutzmann, F. Bernardini, V. Fiorentini,</div>
<div>V. Tilak, B. Schaff, and L. F. Eastman, <span class="m">J. Phys.: Condens. Mat-</span></div>
<div class="e"><span class="m">ter</span> <b>14</b>, 3399 (2002)</div>
<div class="f"><sup>9</sup>S. P. Łepkowski, J. A. Majewski, and G. Jurczak, <span class="m">Phys. Rev. B</span></div>
<div class="e"><b>72</b>, 245201 (Dec. 2005)</div>
<div class="f e"><sup>10</sup>S. P. Łepkowski, <span class="m">Phys. Rev. B</span> <b>77</b>, 155327 (2008)</div>
<div class="f"><sup>11</sup>M. Bahrami-Samani, S. R. Patil, and R. Melnik, <span class="m">J. Phys.: Con-</span></div>
<div class="e"><span class="m">dens. Matter</span> <b>22</b>, 495301 (2010)</div>
<div class="f e"><sup>12</sup>P. N. Keating, <span class="m">Phys. Rev.</span> <b>145</b>, 637 (May 1966)</div>
<div class="f"><sup>13</sup>C. Y. Yeh, Z. W. Lu, S. Froyen, and A. Zunger, <span class="m">Phys. Rev. B</span></div>
<div class="e"><b>46</b>, 10086 (Oct. 1992)</div>
<div class="f e"><sup>14</sup>R. M. Martin, <span class="m">Phys. Rev. B</span> <b>6</b>, 4546 (Dec. 1972)</div>
<div class="f e"><sup>15</sup>R. M. Martin, <span class="m">Phys. Rev. B</span> <b>20</b>, 818 (Jul. 1979)</div>
<div class="f"><sup>16</sup>O. Madelung, <i>Semiconductors: Data Handbook</i>, 3rd ed.</div>
<div class="e">(Springer, 2004)</div>
<div class="f e"><sup>17</sup>I. Vurgaftman and J. R. Meyer, <span class="m">J. Appl. Phys.</span> <b>94</b>, 3675 (2003)</div>
</div>

<script>
// ---------- Figure 1 data ----------
const yValues = [0,0.056,0.111,0.167,0.222,0.278,0.333,0.389,0.444,0.5,0.556,0.611,0.667,0.722,0.778,0.833,0.889,0.944,1];
const xCompLabels = ['x=0.000','x=0.167','x=0.333','x=0.500','x=0.667','x=0.833','x=1.000'];
const xTicks = [0,0.2,0.4,0.6,0.8,1];
const xTickLabels = ['0','0.2','0.4','0.6','0.8','1'];

const c11Ticks = [200,250,300,350];
const c11WithIS = [
 [207,213,219,225,231,237,244,250,257,264,271,278,285,293,300,308,316,323,331],
 [229,235,242,248,255,262,269,276,283,290,298,305,313,321,329,337],
 [253,260,267,274,281,288,296,303,311,319,327,335,343],
 [278,286,293,301,308,316,324,332,340,349],
 [306,314,322,330,338,346,355],
 [335,344,352,361],
 [366]];
const c11NoIS = [
 [210,216,222,228,235,241,248,255,261,268,276,283,290,298,306,313,321,329,337],
 [232,239,245,252,259,266,273,280,288,295,303,311,319,327,335,343],
 [257,264,271,278,285,293,301,308,316,324,332,341,349],
 [283,290,298,305,313,321,329,337,346,355],
 [311,319,327,335,343,351,361],
 [341,349,358,367],
 [372]];
const c11VegardStart = [206.8,233.4,260.0,286.6,313.2,339.8,366.4];
const c11VegardEnd = [331.4,337.3,343.1,348.9,354.8,360.6,366.4];

const c12Ticks = [90,95,100,105,110,115,120,125,130];
const c12WithIS = [
 [99.0,100.2,101.3,102.4,103.5,104.6,105.7,106.8,107.9,109.0,110.2,111.3,112.4,113.5,114.6,115.7,116.8,117.9,119.0],
 [103.5,104.6,105.7,106.8,107.9,109.0,110.1,111.2,112.4,113.5,114.6,115.7,116.8,117.9,119.0,120.1],
 [107.9,109.0,110.1,111.2,112.3,113.4,114.5,115.6,116.8,117.9,119.0,120.1,121.2],
 [112.3,113.4,114.5,115.6,116.7,117.8,119.0,120.1,121.2,122.3],
 [116.7,117.8,118.9,120.0,121.1,122.2,123.3],
 [121.1,122.2,123.3,124.4],
 [125.5]];
const c12NoIS = [
 [95.2,96.2,97.2,98.2,99.2,100.3,101.3,102.3,103.3,104.3,105.3,106.3,107.3,108.3,109.4,110.4,111.4,112.4,113.4],
 [99.3,100.3,101.3,102.3,103.3,104.3,105.3,106.3,107.3,108.4,109.4,110.4,111.4,112.4,113.4,114.4],
 [103.3,104.3,105.3,106.3,107.3,108.4,109.4,110.4,111.4,112.4,113.4,114.4,115.4],
 [107.4,108.4,109.4,110.4,111.4,112.4,113.4,114.4,115.4,116.4],
 [111.4,112.4,113.4,114.4,115.4,116.5,117.5],
 [115.5,116.5,117.5,118.5],
 [119.5]];
const c12VegardStart = [99.0,103.5,107.9,112.3,116.7,121.1,125.5];
const c12VegardEnd = [119.0,120.1,121.2,122.3,123.3,124.4,125.5];

const c13Ticks = [85,90,95,100,105];
const c13Martin = [
 [85.9,86.7,87.5,88.2,89.0,89.7,90.4,91.0,91.7,92.3,92.9,93.5,94.1,94.6,95.2,95.7,96.1,96.6,97.1],
 [89.1,89.8,90.5,91.2,91.9,92.5,93.1,93.7,94.3,94.9,95.4,95.9,96.4,96.9,97.4,97.8],
 [92.0,92.7,93.3,93.9,94.5,95.1,95.6,96.2,96.7,97.2,97.7,98.1,98.5],
 [94.7,95.3,95.8,96.4,96.9,97.4,97.9,98.4,98.8,99.2],
 [97.1,97.6,98.2,98.6,99.1,99.5,99.9],
 [99.3,99.8,100.2,100.6],
 [101.3]];
const c13VegardStart = [85.9,88.5,91.0,93.6,96.1,98.7,101.3];
const c13VegardEnd = [97.1,97.8,98.5,99.2,99.9,100.6,101.3];

const c33Ticks = [220,240,260,280,300,320,340,360,380];
const c33Martin = [
 [219.9,226.1,232.4,238.9,245.5,252.2,259.1,266.2,273.4,280.7,288.2,295.8,303.6,311.6,319.6,327.9,336.2,344.7,353.4],
 [243.2,249.8,256.7,263.8,270.9,278.2,285.7,293.3,301.1,309.0,317.0,325.2,333.6,342.1,350.7,359.5],
 [268.5,275.7,283.1,290.8,298.4,306.4,314.4,322.5,330.9,339.3,348.0,356.7,365.7],
 [295.9,303.7,311.7,319.9,328.1,336.6,345.2,353.9,362.8,371.8],
 [325.4,333.7,342.3,351.1,359.8,368.9,378.1],
 [357.0,365.9,375.0,384.3],
 [390.7]];
const c33VegardStart = [219.9,248.4,276.8,305.3,333.8,362.2,390.7];
const c33VegardEnd = [353.4,359.6,365.9,372.1,378.3,384.5,390.7];

const c44Ticks = [40,50,60,70,80,90,100,110];
const c44WithIS = [
 [47.3,49.4,51.6,53.8,56.1,58.4,60.8,63.3,65.8,68.3,70.9,73.6,76.3,79.1,81.9,84.8,87.8,90.8,93.9],
 [55.3,57.6,59.9,62.4,64.9,67.4,70.0,72.7,75.4,78.2,81.0,83.9,86.8,89.8,92.8,96.0],
 [64.0,66.5,69.1,71.7,74.4,77.2,80.0,82.9,85.8,88.8,91.8,94.9,98.1],
 [73.5,76.2,79.0,81.9,84.8,87.8,90.8,93.9,97.0,100.2],
 [83.7,86.7,89.7,92.8,95.9,99.1,102.3],
 [94.8,98.0,101.2,104.5],
 [106.6]];
const c44NoIS = [
 [48.1,50.3,52.5,54.8,57.1,59.5,62.0,64.5,67.1,69.7,72.3,75.1,77.8,80.7,83.6,86.5,89.6,92.6,95.8],
 [56.3,58.6,61.0,63.6,66.1,68.7,71.4,74.1,76.9,79.7,82.6,85.6,88.5,91.6,94.6,97.9],
 [65.2,67.7,70.4,73.1,75.8,78.7,81.5,84.5,87.5,90.5,93.6,96.7,100.0],
 [74.9,77.6,80.5,83.4,86.4,89.5,92.5,95.7,98.8,102.1],
 [85.2,88.3,91.4,94.5,97.7,100.9,104.2],
 [96.5,99.8,103.0,106.4],
 [108.5]];
const c44VegardStart = [47.3,57.2,67.1,77.0,86.8,96.7,106.6];
const c44VegardEnd = [93.9,96.0,98.1,100.2,102.4,104.5,106.6];

// ---------- drawing ----------
const NS = 'http://www.w3.org/2000/svg';
const svg = document.getElementById('fig');
const X_MIN = -0.42, X_MAX = 1.08;

function mk(tag, attrs, parent) {
  const el = document.createElementNS(NS, tag);
  for (const k in attrs) el.setAttribute(k, attrs[k]);
  parent.appendChild(el);
  return el;
}

function drawPlot(cfg) {
  const g = mk('g', {}, svg);
  
  
  const sx = v => cfg.x0 + (v - X_MIN) / (X_MAX - X_MIN) * (cfg.x1 - cfg.x0);
  const sy = v => cfg.y1 - (v - cfg.ymin) / (cfg.ymax - cfg.ymin) * (cfg.y1 - cfg.y0);

  // grid + y ticks
  cfg.yTicks.forEach(t => {
    const gl = mk('line', {x1: cfg.x0, x2: cfg.x1, y1: sy(t), y2: sy(t), stroke: '#b8b8b8', 'stroke-width': 0.7, 'stroke-dasharray': '1,2'}, g);
    
    
    mk('line', {x1: cfg.x0, x2: cfg.x0 + 5, y1: sy(t), y2: sy(t), stroke: '#333', 'stroke-width': 1}, g);
    mk('line', {x1: cfg.x1 - 5, x2: cfg.x1, y1: sy(t), y2: sy(t), stroke: '#333', 'stroke-width': 1}, g);
    const tl = mk('text', {x: cfg.x0 - 7, y: sy(t) + 4.5, 'text-anchor': 'end', 'font-size': 12.5, fill: '#111'}, g);
    
    
    tl.textContent = String(t);
  });
  // x ticks
  xTicks.forEach((t, i) => {
    const gl = mk('line', {x1: sx(t), x2: sx(t), y1: cfg.y0, y2: cfg.y1, stroke: '#b8b8b8', 'stroke-width': 0.7, 'stroke-dasharray': '1,2'}, g);
    
    
    mk('line', {x1: sx(t), x2: sx(t), y1: cfg.y1, y2: cfg.y1 - 5, stroke: '#333', 'stroke-width': 1}, g);
    mk('line', {x1: sx(t), x2: sx(t), y1: cfg.y0, y2: cfg.y0 + 5, stroke: '#333', 'stroke-width': 1}, g);
    const tl = mk('text', {x: sx(t), y: cfg.y1 + 18, 'text-anchor': 'middle', 'font-size': 12.5, fill: '#111'}, g);
    
    
    tl.textContent = xTickLabels[i];
  });
  // frame
  const fr = mk('rect', {x: cfg.x0, y: cfg.y0, width: cfg.x1 - cfg.x0, height: cfg.y1 - cfg.y0, fill: 'none', stroke: '#333', 'stroke-width': 1.3}, g);
  
  

  const blue = cfg.blue;
  // lines per composition
  cfg.withIS.forEach((vals, k) => {
    const yEnd = yValues[vals.length - 1];
    const veg = mk('line', {x1: sx(0), y1: sy(cfg.vegStart[k]), x2: sx(yEnd), y2: sy(cfg.vegEnd[k]), stroke: '#8c8c8c', 'stroke-width': 1.4}, g);
    
    
    if (vals.length > 1) {
      const pts = vals.map((v, j) => sx(yValues[j]).toFixed(1) + ',' + sy(v).toFixed(1)).join(' ');
      const bow = mk('polyline', {points: pts, fill: 'none', stroke: '#000', 'stroke-width': 1, 'stroke-dasharray': '3,2.5'}, g);
      
      
    }
    const lab = mk('text', {x: sx(0) - 9, y: sy(vals[0]) + 4.5, 'text-anchor': 'end', 'font-size': 12, fill: '#111'}, g);
    
    
    lab.textContent = xCompLabels[k];
  });
  if (cfg.noIS) {
    cfg.noIS.forEach(vals => vals.forEach((v, j) => {
      const c = mk('circle', {cx: sx(yValues[j]), cy: sy(v), r: 3.2, fill: 'none', stroke: '#1fb81f', 'stroke-width': 1.5}, g);
      
      
    }));
  }
  cfg.withIS.forEach(vals => vals.forEach((v, j) => {
    const c = mk('circle', {cx: sx(yValues[j]), cy: sy(v), r: 2.6, fill: blue}, g);
    
    
  }));

  // legend
  const lg = mk('g', {}, g);
  
  
  const entries = cfg.noIS ? ['Martin no IS', 'Martin with IS', "Vegard's law", 'Bowing'] : ['Martin', "Vegard's law", 'Bowing'];
  const offs = cfg.noIS ? [50, 37.5, 24.5, 12] : [38.5, 25.5, 12];
  entries.forEach((name, i) => {
    const yy = cfg.y1 - offs[i];
    const t = mk('text', {x: cfg.x1 - 60, y: yy + 4.5, 'text-anchor': 'end', 'font-size': 12.5, fill: '#111'}, lg);
    
    
    t.textContent = name;
    const cx = cfg.x1 - 32;
    if (name === 'Martin no IS') {
      mk('circle', {cx: cx, cy: yy, r: 3.2, fill: 'none', stroke: '#1fb81f', 'stroke-width': 1.5}, lg);
    } else if (name === 'Martin with IS' || name === 'Martin') {
      mk('circle', {cx: cx, cy: yy, r: 2.6, fill: blue}, lg);
    } else if (name === "Vegard's law") {
      mk('line', {x1: cfg.x1 - 50, x2: cfg.x1 - 14, y1: yy, y2: yy, stroke: '#8c8c8c', 'stroke-width': 1.4}, lg);
    } else {
      mk('line', {x1: cfg.x1 - 50, x2: cfg.x1 - 14, y1: yy, y2: yy, stroke: '#000', 'stroke-width': 1, 'stroke-dasharray': '3,2.5'}, lg);
    }
  });
}

drawPlot({name: 'c11', x0: 2069, x1: 2296, y0: 119, y1: 359, ymin: 170, ymax: 390, yTicks: c11Ticks,
  withIS: c11WithIS, noIS: c11NoIS, vegStart: c11VegardStart, vegEnd: c11VegardEnd, blue: '#12129a'});
drawPlot({name: 'c12', x0: 2396, x1: 2626, y0: 119, y1: 358, ymin: 90, ymax: 130, yTicks: c12Ticks,
  withIS: c12WithIS, noIS: c12NoIS, vegStart: c12VegardStart, vegEnd: c12VegardEnd, blue: '#12129a'});
drawPlot({name: 'c13', x0: 2069, x1: 2296, y0: 444, y1: 684, ymin: 85, ymax: 105, yTicks: c13Ticks,
  withIS: c13Martin, noIS: null, vegStart: c13VegardStart, vegEnd: c13VegardEnd, blue: '#12129a'});
drawPlot({name: 'c33', x0: 2396, x1: 2626, y0: 444, y1: 683, ymin: 200, ymax: 400, yTicks: c33Ticks,
  withIS: c33Martin, noIS: null, vegStart: c33VegardStart, vegEnd: c33VegardEnd, blue: '#2424d0'});
drawPlot({name: 'c44', x0: 2232, x1: 2462, y0: 769, y1: 1008, ymin: 40, ymax: 110, yTicks: c44Ticks,
  withIS: c44WithIS, noIS: c44NoIS, vegStart: c44VegardStart, vegEnd: c44VegardEnd, blue: '#2a2ae0'});
</script>
</body></html>
